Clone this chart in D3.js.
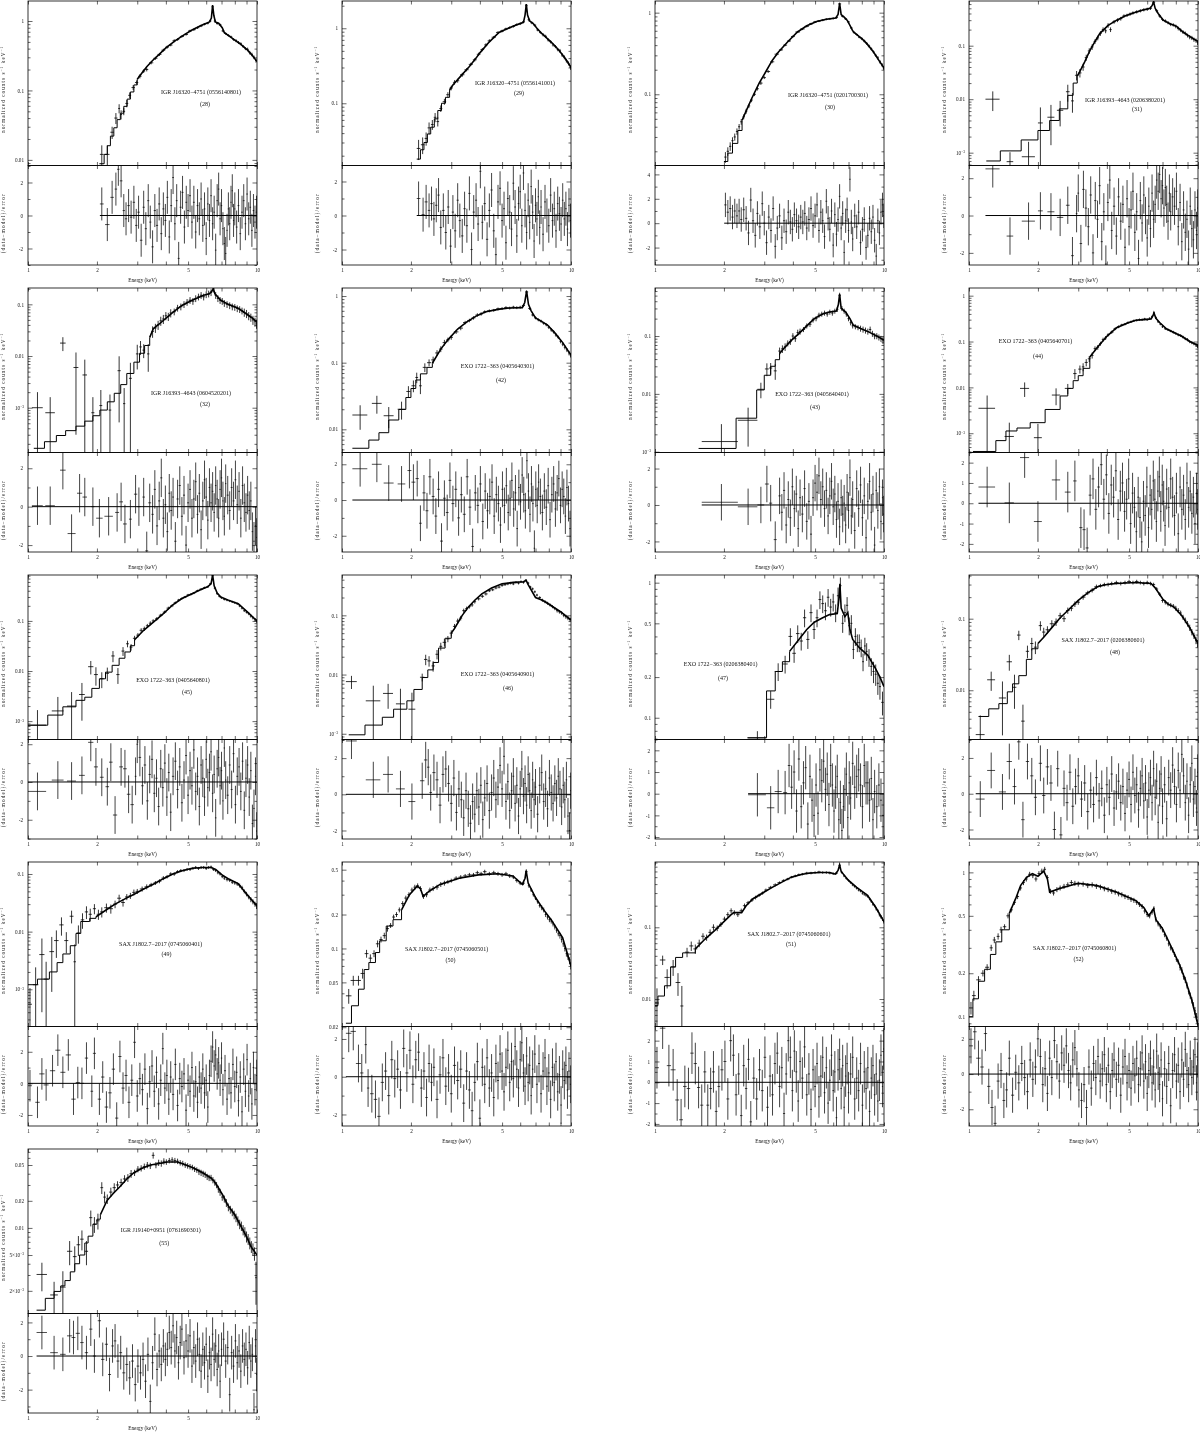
<!DOCTYPE html>
<html><head><meta charset="utf-8">
<script src="https://cdn.jsdelivr.net/npm/d3@7"></script>
<style>html,body{margin:0;padding:0;background:#fff;}svg{display:block;will-change:transform;}text{-webkit-font-smoothing:antialiased;}</style>
</head><body>
<svg id="c" width="1200" height="1433"></svg>
<script>
// ---------------- DATA ----------------
const panelIds = ["28","29","30","31","32","42","43","44","45","46","47","48","49","50","51","52","55"];
const sourceNames = ["IGR J16320−4751 (0556140801)","IGR J16320−4751 (0556141001)","IGR J16320−4751 (0201700301)",
 "IGR J16393−4643 (0206380201)","IGR J16393−4643 (0604520201)","EXO 1722−363 (0405640301)","EXO 1722−363 (0405640401)",
 "EXO 1722−363 (0405640701)","EXO 1722−363 (0405640801)","EXO 1722−363 (0405640901)","EXO 1722−363 (0206380401)",
 "SAX J1802.7−2017 (0206380601)","SAX J1802.7−2017 (0745060401)","SAX J1802.7−2017 (0745060501)",
 "SAX J1802.7−2017 (0745060601)","SAX J1802.7−2017 (0745060801)","IGR J19140+0951 (0761690301)"];
const energyTicks = [1,2,3,4,5,6,7,8,9,10];
const energyLabelTicks = [1,2,5,10];
const resTicksA = [-2,0,2];
const resTicksB = [-2,0,2,4];
const resTicksC = [-2,-1,0,1,2];
const yt28=[0.01,0.1,1], yt29=[0.1,1], yt30=[0.1,1], yt31=[0.001,0.01,0.1], yt32=[0.001,0.01,0.1],
 yt42=[0.01,0.1,1], yt43=[0.001,0.01,0.1], yt44=[0.001,0.01,0.1,1], yt45=[0.001,0.01,0.1], yt46=[0.001,0.01,0.1],
 yt47=[0.1,0.2,0.5,1], yt48=[0.01,0.1], yt49=[0.001,0.01,0.1], yt50=[0.02,0.05,0.1,0.2,0.5], yt51=[0.01,0.1],
 yt52=[0.1,0.2,0.5,1], yt55=[0.002,0.005,0.01,0.02,0.05];

// model: [energy keV, counts/s/keV]
const model28=[[2.05,0.0088],[2.15,0.012],[2.22,0.016],[2.29,0.022],[2.37,0.029],[2.45,0.038],[2.53,0.047],[2.62,0.059],[2.71,0.075],[2.8,0.095],[2.9,0.12],[3.0,0.145],[3.15,0.18],[3.3,0.22],[3.5,0.27],[3.7,0.32],[4.0,0.41],[4.4,0.52],[4.8,0.63],[5.2,0.74],[5.7,0.86],[6.2,0.97],[6.32,1.1],[6.4,1.7],[6.48,1.2],[6.58,0.97],[6.8,0.93],[7.05,0.8],[7.2,0.68],[7.6,0.6],[8.0,0.53],[8.5,0.46],[9.1,0.38],[9.6,0.31],[10,0.26]];
const model29=[[2.12,0.018],[2.2,0.024],[2.28,0.03],[2.36,0.039],[2.44,0.048],[2.53,0.062],[2.62,0.08],[2.72,0.1],[2.83,0.12],[2.95,0.15],[3.05,0.175],[3.3,0.23],[3.6,0.31],[3.85,0.4],[4.0,0.47],[4.4,0.66],[4.85,0.88],[5.2,0.97],[5.65,1.08],[6.2,1.2],[6.3,1.5],[6.38,2.1],[6.46,1.5],[6.6,1.25],[6.85,1.15],[7.1,1.0],[7.4,0.87],[7.8,0.75],[8.3,0.63],[8.8,0.52],[9.3,0.42],[9.7,0.35],[10,0.3]];
const model30=[[2.0,0.015],[2.08,0.019],[2.18,0.025],[2.3,0.036],[2.4,0.048],[2.51,0.064],[2.65,0.09],[2.85,0.137],[3.05,0.19],[3.25,0.26],[3.46,0.33],[3.8,0.44],[4.19,0.58],[4.6,0.69],[5.08,0.78],[5.6,0.83],[6.16,0.86],[6.3,0.95],[6.4,1.3],[6.5,0.95],[6.7,0.88],[6.9,0.81],[7.1,0.7],[7.3,0.6],[7.47,0.56],[8.0,0.48],[8.4,0.42],[9.0,0.33],[9.5,0.26],[10,0.21]];
const model31=[[1.19,0.0007],[1.37,0.00108],[1.69,0.00173],[2.0,0.0026],[2.25,0.004],[2.48,0.0066],[2.7,0.0118],[2.85,0.02],[2.97,0.027],[3.05,0.033],[3.2,0.05],[3.38,0.083],[3.55,0.12],[3.73,0.17],[4.05,0.24],[4.42,0.3],[4.8,0.36],[5.22,0.41],[5.7,0.46],[6.17,0.5],[6.3,0.56],[6.4,0.66],[6.5,0.5],[6.7,0.4],[7.05,0.3],[7.5,0.26],[8.07,0.23],[8.6,0.18],[9.3,0.145],[10,0.12]];
const model32=[[1.06,0.000164],[1.18,0.00022],[1.33,0.00029],[1.46,0.00036],[1.62,0.00044],[1.77,0.00055],[1.92,0.0007],[2.06,0.0009],[2.22,0.0013],[2.38,0.0019],[2.54,0.0028],[2.7,0.0046],[2.9,0.0076],[3.07,0.0113],[3.23,0.016],[3.4,0.023],[3.53,0.034],[3.82,0.045],[4.29,0.07],[4.7,0.095],[5.21,0.12],[5.85,0.15],[6.2,0.16],[6.35,0.18],[6.45,0.2],[6.55,0.16],[6.95,0.12],[7.5,0.1],[8.28,0.084],[9.0,0.065],[9.5,0.055],[10,0.045]];
const model42=[[1.11,0.0052],[1.31,0.0069],[1.45,0.0089],[1.6,0.0138],[1.77,0.0199],[1.9,0.03],[2.0,0.041],[2.1,0.055],[2.2,0.068],[2.35,0.085],[2.48,0.098],[2.7,0.16],[2.9,0.22],[3.2,0.32],[3.51,0.41],[3.85,0.5],[4.25,0.58],[4.8,0.63],[5.36,0.66],[6.13,0.67],[6.28,0.8],[6.4,1.19],[6.52,0.75],[6.7,0.6],[7.0,0.47],[7.4,0.42],[7.88,0.37],[8.5,0.28],[9.2,0.2],[10,0.13]];
const model43=[[1.55,0.00114],[2.26,0.0038],[2.78,0.0117],[3.0,0.021],[3.2,0.03],[3.35,0.039],[3.5,0.05],[3.65,0.061],[3.95,0.085],[4.25,0.11],[4.6,0.15],[4.96,0.2],[5.4,0.24],[5.78,0.26],[6.2,0.27],[6.32,0.35],[6.4,0.53],[6.5,0.3],[6.8,0.26],[7.1,0.2],[7.34,0.155],[7.9,0.135],[8.56,0.118],[9.3,0.1],[10,0.085]];
const model44=[[1.04,0.0004],[1.31,0.00069],[1.45,0.00112],[1.62,0.0013],[1.85,0.0017],[2.15,0.0033],[2.5,0.0065],[2.7,0.0095],[2.85,0.014],[3.0,0.018],[3.15,0.026],[3.37,0.046],[3.64,0.075],[4.0,0.13],[4.41,0.2],[4.9,0.25],[5.35,0.29],[5.8,0.3],[6.24,0.31],[6.35,0.36],[6.42,0.42],[6.55,0.32],[6.8,0.26],[7.28,0.19],[7.8,0.16],[8.5,0.13],[9.2,0.1],[10,0.082]];
const model45=[[1.0,0.00083],[1.22,0.00132],[1.42,0.00193],[1.62,0.0026],[1.77,0.003],[1.9,0.0045],[2.05,0.007],[2.18,0.0095],[2.33,0.013],[2.5,0.018],[2.65,0.024],[2.8,0.032],[2.92,0.042],[3.2,0.065],[3.54,0.096],[3.9,0.14],[4.29,0.21],[4.7,0.28],[5.21,0.35],[5.6,0.41],[6.08,0.48],[6.3,0.55],[6.4,0.83],[6.5,0.5],[6.7,0.36],[6.95,0.3],[7.5,0.26],[8.28,0.22],[9.1,0.15],[10,0.1]];
const model46=[[1.07,0.00096],[1.26,0.0014],[1.5,0.0019],[1.68,0.0026],[1.92,0.0036],[2.06,0.0056],[2.24,0.0089],[2.37,0.012],[2.5,0.016],[2.64,0.028],[2.82,0.041],[3.0,0.05],[3.1,0.06],[3.35,0.1],[3.55,0.136],[3.8,0.18],[4.08,0.23],[4.5,0.29],[5.0,0.34],[5.6,0.36],[6.2,0.37],[6.37,0.39],[6.5,0.33],[7.0,0.2],[7.5,0.18],[7.9,0.16],[9.0,0.115],[10,0.083]];
const model47=[[2.53,0.071],[3.07,0.158],[3.35,0.22],[3.6,0.26],[3.87,0.31],[4.25,0.38],[4.6,0.45],[4.96,0.51],[5.4,0.55],[5.78,0.58],[6.25,0.59],[6.35,0.75],[6.42,0.98],[6.5,0.65],[6.75,0.56],[6.95,0.6],[7.1,0.45],[7.3,0.38],[7.8,0.33],[8.5,0.29],[9.2,0.23],[9.6,0.2],[10,0.17]];
const model48=[[1.1,0.0043],[1.22,0.0055],[1.35,0.0065],[1.47,0.0095],[1.55,0.0123],[1.65,0.016],[1.78,0.027],[1.88,0.038],[2.0,0.045],[2.12,0.055],[2.3,0.075],[2.48,0.1],[2.7,0.13],[3.0,0.18],[3.3,0.23],[3.64,0.28],[4.0,0.3],[4.41,0.31],[5.35,0.32],[6.24,0.31],[6.5,0.27],[7.0,0.19],[7.4,0.16],[7.86,0.145],[8.5,0.11],[9.2,0.075],[10,0.045]];
const model49=[[1.0,0.0012],[1.1,0.0015],[1.24,0.002],[1.34,0.0029],[1.42,0.0041],[1.53,0.0057],[1.62,0.0093],[1.7,0.015],[1.86,0.017],[1.98,0.018],[2.2,0.024],[2.4,0.03],[2.65,0.037],[2.92,0.045],[3.2,0.055],[3.54,0.067],[3.9,0.083],[4.29,0.1],[4.75,0.115],[5.21,0.126],[5.8,0.13],[6.32,0.13],[6.6,0.12],[7.1,0.094],[7.6,0.08],[8.28,0.068],[9.0,0.045],[10,0.028]];
const model50=[[1.04,0.0217],[1.1,0.031],[1.18,0.0435],[1.25,0.065],[1.31,0.075],[1.4,0.092],[1.46,0.117],[1.56,0.158],[1.67,0.18],[1.82,0.22],[1.97,0.3],[2.13,0.357],[2.2,0.34],[2.26,0.29],[2.39,0.32],[2.68,0.37],[3.25,0.42],[3.94,0.45],[4.78,0.46],[5.57,0.44],[6.13,0.37],[6.3,0.42],[6.37,0.49],[6.5,0.38],[7.02,0.28],[7.6,0.22],[8.19,0.18],[9.19,0.125],[10,0.07]];
const model51=[[1.0,0.0081],[1.03,0.011],[1.1,0.0153],[1.17,0.028],[1.23,0.038],[1.32,0.044],[1.5,0.05],[1.65,0.068],[1.82,0.09],[2.0,0.12],[2.15,0.15],[2.21,0.16],[2.39,0.16],[2.5,0.2],[2.68,0.25],[3.0,0.31],[3.25,0.36],[3.6,0.43],[3.94,0.5],[4.4,0.55],[4.78,0.57],[5.3,0.58],[5.79,0.58],[6.13,0.55],[6.3,0.62],[6.4,0.74],[6.5,0.6],[7.0,0.45],[7.6,0.36],[8.47,0.28],[9.2,0.19],[10,0.12]];
const model52=[[1.0,0.1],[1.04,0.133],[1.1,0.176],[1.17,0.213],[1.24,0.27],[1.31,0.33],[1.39,0.4],[1.5,0.52],[1.6,0.66],[1.68,0.81],[1.78,0.92],[1.89,0.98],[2.0,0.94],[2.12,1.02],[2.2,0.9],[2.25,0.73],[2.47,0.77],[3.0,0.84],[3.63,0.81],[4.4,0.73],[5.33,0.64],[5.8,0.57],[6.1,0.5],[6.3,0.54],[6.4,0.56],[6.55,0.47],[6.98,0.41],[7.4,0.34],[7.83,0.28],[8.3,0.23],[8.8,0.18],[9.4,0.13],[10,0.087]];
const model55=[[1.09,0.00122],[1.19,0.00165],[1.3,0.00197],[1.39,0.00227],[1.45,0.0026],[1.53,0.00325],[1.6,0.004],[1.68,0.005],[1.77,0.0068],[1.83,0.0081],[1.92,0.011],[2.0,0.0125],[2.07,0.014],[2.21,0.02],[2.35,0.024],[2.53,0.029],[2.7,0.035],[2.9,0.041],[3.15,0.046],[3.43,0.05],[4.06,0.054],[4.49,0.054],[4.9,0.05],[5.31,0.046],[5.8,0.041],[6.29,0.036],[6.5,0.033],[6.72,0.029],[7.1,0.023],[7.44,0.018],[8.0,0.014],[8.51,0.0104],[9.0,0.008],[9.41,0.0062],[10,0.005]];

// spectra: [energy keV, counts/s/keV, relative 1-sigma error, optional bin half-width keV]
const spec28=[[2.1,0.012,0.35,0.04],[2.22,0.012,0.35,0.05],[2.33,0.025,0.2,0.04],[2.42,0.04,0.18],[2.5,0.055,0.15],[2.55,0.045,0.15],[2.62,0.05,0.12],[2.7,0.065,0.12],[2.78,0.085,0.1],[2.88,0.11,0.08],[2.98,0.13,0.07],[3.08,0.16,0.07],[3.2,0.19,0.06],[3.3,0.2,0.06],[3.45,0.25,0.05],[3.6,0.29,0.05],[3.75,0.33,0.05],[3.9,0.38,0.05],[4.05,0.42,0.05],[4.2,0.45,0.04],[4.35,0.52,0.05],[4.5,0.54,0.04],[4.7,0.6,0.04],[4.9,0.64,0.04],[5.1,0.72,0.04],[5.3,0.75,0.04],[5.5,0.8,0.04],[5.7,0.85,0.04],[5.9,0.9,0.04],[6.1,0.93,0.04],[6.25,1.0,0.04],[6.4,1.6,0.05],[6.55,1.0,0.05],[6.7,0.92,0.04],[6.9,0.88,0.04],[7.1,0.72,0.04],[7.3,0.66,0.04],[7.5,0.62,0.04],[7.7,0.59,0.04],[7.9,0.54,0.04],[8.1,0.52,0.05],[8.3,0.49,0.05],[8.5,0.47,0.05],[8.7,0.43,0.05],[8.9,0.4,0.05],[9.1,0.39,0.06],[9.3,0.35,0.06],[9.5,0.33,0.06],[9.7,0.3,0.06],[9.9,0.27,0.07]];
const spec29=[[2.16,0.025,0.3,0.04],[2.25,0.028,0.25,0.04],[2.33,0.034,0.2],[2.4,0.047,0.18],[2.48,0.052,0.15],[2.55,0.065,0.14],[2.62,0.057,0.14],[2.7,0.085,0.1],[2.8,0.105,0.09],[2.9,0.13,0.08],[3.0,0.16,0.07],[3.1,0.19,0.07],[3.2,0.2,0.06],[3.35,0.24,0.06],[3.5,0.28,0.05],[3.65,0.33,0.05],[3.8,0.38,0.05],[3.95,0.45,0.05],[4.1,0.52,0.05],[4.25,0.6,0.05],[4.4,0.68,0.05],[4.6,0.76,0.04],[4.8,0.88,0.04],[5.0,0.92,0.04],[5.2,0.98,0.04],[5.4,1.02,0.04],[5.6,1.06,0.04],[5.8,1.12,0.04],[6.0,1.15,0.04],[6.2,1.22,0.04],[6.38,2.0,0.05],[6.55,1.3,0.05],[6.75,1.18,0.04],[6.95,1.1,0.04],[7.15,0.95,0.04],[7.35,0.88,0.04],[7.55,0.82,0.05],[7.75,0.78,0.05],[7.95,0.7,0.05],[8.15,0.66,0.05],[8.35,0.6,0.05],[8.55,0.57,0.05],[8.75,0.52,0.05],[8.95,0.5,0.06],[9.15,0.44,0.06],[9.35,0.41,0.06],[9.55,0.37,0.06],[9.75,0.34,0.06],[9.95,0.3,0.07]];
const spec30=[[2.03,0.017,0.15,0.025],[2.08,0.02,0.12],[2.13,0.023,0.12],[2.18,0.027,0.1],[2.23,0.03,0.1],[2.28,0.035,0.09],[2.33,0.04,0.08],[2.38,0.046,0.08],[2.44,0.053,0.07],[2.5,0.062,0.07],[2.57,0.072,0.06],[2.64,0.085,0.06],[2.72,0.1,0.05],[2.8,0.117,0.05],[2.9,0.137,0.05],[3.0,0.16,0.04],[3.12,0.19,0.04],[3.25,0.25,0.04],[3.4,0.31,0.04],[3.55,0.35,0.03],[3.7,0.4,0.03],[3.85,0.45,0.03],[4.0,0.51,0.03],[4.2,0.58,0.03],[4.4,0.63,0.03],[4.6,0.68,0.03],[4.8,0.73,0.03],[5.0,0.77,0.03],[5.2,0.79,0.03],[5.4,0.81,0.03],[5.6,0.83,0.03],[5.8,0.84,0.03],[6.0,0.85,0.03],[6.2,0.87,0.03],[6.4,1.28,0.04],[6.6,0.9,0.03],[6.8,0.84,0.03],[7.0,0.77,0.03],[7.2,0.65,0.03],[7.4,0.57,0.03],[7.6,0.54,0.03],[7.8,0.5,0.03],[8.0,0.48,0.04],[8.2,0.45,0.04],[8.4,0.42,0.04],[8.6,0.39,0.04],[8.8,0.36,0.04],[9.0,0.33,0.04],[9.2,0.3,0.04],[9.4,0.28,0.05],[9.6,0.25,0.05],[9.8,0.23,0.05],[9.95,0.21,0.05]];
const spec31=[[1.27,0.01,0.4,0.09],[1.51,0.00068,0.5,0.05],[1.82,0.00084,0.9,0.12],[2.05,0.0036,0.95,0.05],[2.28,0.0046,0.7,0.08],[2.5,0.0062,0.5,0.08],[2.7,0.0138,0.35,0.05],[2.83,0.0093,0.4,0.04],[2.95,0.028,0.2],[3.05,0.031,0.18],[3.15,0.04,0.15],[3.25,0.06,0.13],[3.35,0.08,0.12],[3.45,0.095,0.12],[3.55,0.12,0.1],[3.65,0.14,0.1],[3.75,0.17,0.1],[3.85,0.2,0.1],[3.95,0.19,0.1],[4.05,0.24,0.1],[4.15,0.2,0.1],[4.3,0.28,0.08],[4.45,0.3,0.08],[4.6,0.32,0.08],[4.75,0.36,0.07],[4.9,0.37,0.07],[5.05,0.39,0.07],[5.2,0.41,0.07],[5.4,0.43,0.07],[5.6,0.45,0.07],[5.8,0.47,0.07],[6.0,0.48,0.07],[6.2,0.5,0.07],[6.4,0.65,0.08],[6.6,0.45,0.07],[6.8,0.36,0.07],[7.0,0.31,0.07],[7.2,0.29,0.07],[7.4,0.27,0.07],[7.6,0.25,0.07],[7.8,0.245,0.07],[8.0,0.23,0.08],[8.2,0.21,0.08],[8.4,0.195,0.08],[8.6,0.18,0.08],[8.8,0.17,0.08],[9.0,0.155,0.08],[9.2,0.145,0.09],[9.4,0.14,0.09],[9.6,0.13,0.09],[9.8,0.125,0.09],[9.95,0.115,0.1]];
const spec32=[[1.1,0.001,1.0,0.06],[1.25,0.0008,1.0,0.06],[1.42,0.0178,0.3,0.04],[1.62,0.006,0.95,0.04],[1.77,0.0043,0.98,0.04],[1.92,0.0008,1.0,0.03],[2.08,0.0011,1.0,0.03],[2.28,0.0009,1.0,0.03],[2.5,0.0052,0.9,0.04],[2.63,0.0012,1.0,0.03],[2.8,0.0037,1.0,0.04],[3.0,0.011,0.5,0.04],[3.1,0.015,0.3,0.04],[3.2,0.013,0.3,0.04],[3.35,0.011,0.55,0.04],[3.5,0.03,0.25],[3.6,0.035,0.2],[3.7,0.04,0.2],[3.8,0.048,0.2],[3.9,0.052,0.2],[4.0,0.06,0.18],[4.1,0.058,0.18],[4.2,0.068,0.18],[4.35,0.072,0.15],[4.5,0.085,0.15],[4.65,0.09,0.15],[4.8,0.1,0.15],[4.95,0.11,0.15],[5.1,0.12,0.15],[5.25,0.115,0.15],[5.4,0.13,0.15],[5.55,0.14,0.15],[5.7,0.15,0.15],[5.85,0.14,0.15],[6.0,0.155,0.15],[6.15,0.16,0.15],[6.3,0.17,0.15],[6.45,0.2,0.15],[6.6,0.15,0.15],[6.75,0.13,0.15],[6.9,0.12,0.15],[7.05,0.115,0.15],[7.2,0.105,0.15],[7.4,0.1,0.15],[7.6,0.095,0.15],[7.8,0.09,0.15],[8.0,0.088,0.15],[8.2,0.083,0.15],[8.4,0.08,0.15],[8.6,0.075,0.15],[8.8,0.07,0.18],[9.0,0.066,0.18],[9.2,0.06,0.18],[9.4,0.056,0.18],[9.6,0.05,0.2],[9.8,0.046,0.2],[9.95,0.042,0.2]];
const spec42=[[1.2,0.0164,0.4,0.09],[1.42,0.0245,0.3,0.07],[1.6,0.016,0.35,0.08],[1.82,0.02,0.3,0.07],[1.95,0.037,0.2,0.04],[2.05,0.045,0.2,0.04],[2.12,0.06,0.18,0.03],[2.2,0.045,0.25,0.03],[2.3,0.085,0.15],[2.4,0.1,0.12],[2.5,0.11,0.12],[2.6,0.14,0.1],[2.7,0.16,0.1],[2.8,0.2,0.1],[2.9,0.22,0.08],[3.0,0.24,0.08],[3.15,0.29,0.07],[3.3,0.33,0.07],[3.45,0.4,0.06],[3.6,0.43,0.06],[3.75,0.47,0.06],[3.9,0.52,0.06],[4.05,0.54,0.06],[4.2,0.58,0.05],[4.4,0.6,0.05],[4.6,0.61,0.05],[4.8,0.64,0.05],[5.0,0.65,0.05],[5.2,0.67,0.05],[5.4,0.66,0.05],[5.6,0.68,0.05],[5.8,0.67,0.05],[6.0,0.68,0.05],[6.2,0.72,0.05],[6.4,1.15,0.06],[6.6,0.65,0.05],[6.8,0.52,0.05],[7.0,0.47,0.05],[7.2,0.44,0.05],[7.4,0.42,0.05],[7.6,0.39,0.05],[7.8,0.37,0.05],[8.0,0.34,0.06],[8.2,0.31,0.06],[8.4,0.29,0.06],[8.6,0.26,0.06],[8.8,0.24,0.06],[9.0,0.21,0.07],[9.2,0.19,0.07],[9.4,0.17,0.07],[9.6,0.155,0.07],[9.8,0.14,0.08],[9.95,0.13,0.08]];
const spec43=[[1.95,0.0015,1.0,0.35],[2.55,0.0035,0.65,0.25],[2.9,0.012,0.3,0.1],[3.08,0.027,0.25,0.06],[3.2,0.028,0.22,0.05],[3.35,0.025,0.3,0.05],[3.5,0.055,0.15],[3.6,0.06,0.15],[3.7,0.065,0.15],[3.8,0.075,0.12],[3.9,0.08,0.12],[4.0,0.1,0.12],[4.1,0.09,0.12],[4.2,0.115,0.12],[4.3,0.12,0.12],[4.45,0.13,0.1],[4.6,0.15,0.1],[4.75,0.16,0.1],[4.9,0.19,0.1],[5.05,0.2,0.1],[5.2,0.23,0.1],[5.35,0.24,0.1],[5.5,0.25,0.1],[5.65,0.24,0.1],[5.8,0.26,0.1],[5.95,0.25,0.1],[6.1,0.27,0.1],[6.25,0.29,0.1],[6.4,0.5,0.12],[6.55,0.3,0.1],[6.7,0.27,0.1],[6.85,0.24,0.1],[7.0,0.2,0.1],[7.15,0.17,0.1],[7.3,0.15,0.1],[7.5,0.145,0.1],[7.7,0.14,0.1],[7.9,0.135,0.12],[8.1,0.13,0.12],[8.3,0.125,0.12],[8.5,0.12,0.12],[8.7,0.13,0.12],[8.9,0.11,0.12],[9.1,0.1,0.12],[9.3,0.1,0.12],[9.5,0.095,0.12],[9.7,0.09,0.12],[9.9,0.085,0.15]];
const spec44=[[1.2,0.0035,0.9,0.1],[1.5,0.00085,1.0,0.07],[1.75,0.0095,0.35,0.08],[2.0,0.0008,1.0,0.08],[2.4,0.0068,0.4,0.1],[2.7,0.0095,0.25,0.08],[2.9,0.02,0.25,0.05],[3.05,0.025,0.2,0.05],[3.15,0.028,0.2,0.04],[3.25,0.035,0.18],[3.35,0.042,0.15],[3.45,0.05,0.15],[3.55,0.07,0.12],[3.65,0.075,0.12],[3.75,0.09,0.1],[3.85,0.11,0.1],[3.95,0.12,0.1],[4.05,0.14,0.08],[4.2,0.16,0.08],[4.35,0.19,0.07],[4.5,0.21,0.07],[4.65,0.23,0.06],[4.8,0.24,0.06],[4.95,0.26,0.06],[5.1,0.27,0.06],[5.25,0.285,0.06],[5.4,0.29,0.06],[5.55,0.3,0.06],[5.7,0.3,0.06],[5.85,0.31,0.06],[6.0,0.3,0.06],[6.15,0.32,0.06],[6.3,0.35,0.06],[6.42,0.42,0.06],[6.55,0.33,0.06],[6.7,0.27,0.06],[6.85,0.24,0.06],[7.0,0.21,0.06],[7.2,0.19,0.06],[7.4,0.18,0.06],[7.6,0.17,0.06],[7.8,0.16,0.07],[8.0,0.15,0.07],[8.2,0.14,0.07],[8.4,0.135,0.07],[8.6,0.125,0.07],[8.8,0.115,0.07],[9.0,0.11,0.08],[9.2,0.1,0.08],[9.4,0.095,0.08],[9.6,0.09,0.08],[9.8,0.085,0.08],[9.95,0.08,0.1]];
const spec45=[[1.1,0.00083,1.0,0.1],[1.35,0.0016,0.9,0.08],[1.55,0.002,0.9,0.07],[1.72,0.0034,0.7,0.05],[1.88,0.0122,0.3,0.05],[1.98,0.0085,0.4,0.04],[2.1,0.007,0.35,0.04],[2.22,0.009,0.3,0.04],[2.35,0.02,0.25,0.04],[2.47,0.0085,0.35,0.04],[2.6,0.025,0.2,0.04],[2.72,0.035,0.15,0.04],[2.82,0.03,0.15,0.04],[2.92,0.045,0.12],[3.02,0.052,0.1],[3.12,0.065,0.1],[3.22,0.07,0.1],[3.32,0.08,0.09],[3.42,0.09,0.09],[3.52,0.1,0.08],[3.65,0.11,0.08],[3.8,0.13,0.07],[3.95,0.15,0.07],[4.1,0.18,0.07],[4.25,0.2,0.06],[4.4,0.23,0.06],[4.55,0.26,0.06],[4.7,0.28,0.05],[4.85,0.3,0.05],[5.0,0.33,0.05],[5.15,0.34,0.05],[5.3,0.36,0.05],[5.5,0.4,0.05],[5.7,0.43,0.05],[5.9,0.46,0.05],[6.1,0.48,0.05],[6.25,0.55,0.05],[6.4,0.8,0.06],[6.55,0.45,0.05],[6.7,0.35,0.05],[6.85,0.31,0.05],[7.0,0.29,0.05],[7.2,0.27,0.05],[7.4,0.26,0.05],[7.6,0.25,0.05],[7.8,0.24,0.05],[8.0,0.23,0.05],[8.2,0.22,0.05],[8.4,0.2,0.06],[8.6,0.18,0.06],[8.8,0.16,0.06],[9.0,0.15,0.06],[9.2,0.14,0.07],[9.4,0.125,0.07],[9.6,0.115,0.07],[9.8,0.105,0.08],[9.95,0.1,0.08]];
const spec46=[[1.1,0.0076,0.25,0.06],[1.37,0.0036,0.8,0.1],[1.59,0.0048,0.45,0.08],[1.8,0.0032,0.8,0.08],[2.02,0.0026,0.9,0.07],[2.24,0.009,0.15,0.05],[2.32,0.018,0.2,0.04],[2.4,0.017,0.2,0.04],[2.5,0.014,0.2,0.04],[2.6,0.022,0.18,0.04],[2.7,0.03,0.15,0.04],[2.8,0.035,0.15],[2.9,0.04,0.12],[3.0,0.05,0.12],[3.1,0.065,0.1],[3.2,0.08,0.1],[3.3,0.09,0.09],[3.4,0.12,0.08],[3.5,0.13,0.08],[3.6,0.14,0.07],[3.7,0.15,0.07],[3.8,0.17,0.07],[3.95,0.19,0.06],[4.1,0.21,0.06],[4.25,0.23,0.06],[4.4,0.26,0.05],[4.55,0.27,0.05],[4.7,0.29,0.05],[4.85,0.3,0.05],[5.0,0.32,0.05],[5.15,0.33,0.05],[5.3,0.34,0.05],[5.45,0.35,0.05],[5.6,0.34,0.05],[5.75,0.36,0.05],[5.9,0.35,0.05],[6.05,0.37,0.05],[6.2,0.36,0.05],[6.35,0.39,0.05],[6.5,0.35,0.05],[6.65,0.3,0.05],[6.8,0.28,0.05],[6.95,0.25,0.05],[7.1,0.22,0.05],[7.3,0.2,0.05],[7.5,0.18,0.06],[7.7,0.17,0.06],[7.9,0.16,0.06],[8.1,0.15,0.06],[8.3,0.14,0.06],[8.5,0.13,0.06],[8.7,0.12,0.07],[8.9,0.115,0.07],[9.1,0.11,0.07],[9.3,0.1,0.07],[9.5,0.095,0.08],[9.7,0.09,0.08],[9.9,0.085,0.08]];
const spec47=[[2.8,0.071,0.12,0.25],[3.2,0.137,0.15,0.12],[3.45,0.22,0.15],[3.7,0.25,0.15],[3.9,0.4,0.15],[4.05,0.3,0.15],[4.2,0.42,0.15],[4.35,0.37,0.15],[4.5,0.55,0.15],[4.65,0.38,0.15],[4.8,0.6,0.15],[4.95,0.45,0.15],[5.1,0.55,0.15],[5.25,0.75,0.15],[5.4,0.7,0.15],[5.55,0.62,0.15],[5.7,0.78,0.15],[5.85,0.66,0.15],[6.0,0.72,0.15],[6.15,0.6,0.15],[6.3,0.8,0.15],[6.45,0.95,0.15],[6.6,0.5,0.15],[6.75,0.6,0.15],[6.9,0.68,0.15],[7.05,0.48,0.15],[7.2,0.5,0.15],[7.35,0.32,0.15],[7.5,0.4,0.15],[7.65,0.36,0.15],[7.8,0.36,0.15],[7.95,0.33,0.15],[8.1,0.26,0.15],[8.25,0.34,0.15],[8.4,0.31,0.15],[8.6,0.28,0.15],[8.8,0.24,0.15],[9.0,0.22,0.18],[9.2,0.21,0.18],[9.4,0.18,0.18],[9.6,0.17,0.2],[9.85,0.13,0.2]];
const spec48=[[1.12,0.0024,0.85,0.05],[1.25,0.014,0.3,0.05],[1.4,0.0078,0.7,0.05],[1.5,0.025,0.25,0.04],[1.58,0.011,0.5,0.03],[1.65,0.059,0.15,0.03],[1.72,0.0037,0.7,0.03],[1.8,0.035,0.2,0.03],[1.88,0.045,0.2,0.03],[1.95,0.04,0.2,0.03],[2.05,0.08,0.15],[2.12,0.065,0.15],[2.2,0.07,0.12],[2.3,0.085,0.12],[2.4,0.09,0.12],[2.5,0.11,0.1],[2.6,0.1,0.1],[2.7,0.13,0.1],[2.8,0.14,0.09],[2.9,0.16,0.09],[3.0,0.17,0.08],[3.15,0.2,0.08],[3.3,0.23,0.07],[3.45,0.25,0.07],[3.6,0.28,0.07],[3.75,0.29,0.06],[3.9,0.3,0.06],[4.05,0.3,0.06],[4.2,0.31,0.06],[4.4,0.32,0.06],[4.6,0.31,0.06],[4.8,0.32,0.06],[5.0,0.33,0.06],[5.2,0.32,0.06],[5.4,0.33,0.06],[5.6,0.32,0.06],[5.8,0.31,0.06],[6.0,0.32,0.06],[6.2,0.31,0.06],[6.4,0.3,0.06],[6.6,0.26,0.06],[6.8,0.22,0.06],[7.0,0.18,0.07],[7.2,0.17,0.07],[7.4,0.16,0.07],[7.6,0.155,0.07],[7.8,0.15,0.07],[8.0,0.14,0.08],[8.2,0.13,0.08],[8.4,0.12,0.08],[8.6,0.105,0.08],[8.8,0.095,0.09],[9.0,0.085,0.09],[9.2,0.075,0.1],[9.4,0.065,0.1],[9.6,0.058,0.1],[9.8,0.05,0.12],[9.95,0.045,0.12]];
const spec49=[[1.02,0.00055,0.9,0.02],[1.08,0.0012,1.0,0.03],[1.15,0.004,0.9,0.03],[1.2,0.0015,1.0,0.03],[1.27,0.0045,0.8,0.03],[1.33,0.007,0.5,0.03],[1.4,0.0131,0.35,0.03],[1.47,0.007,0.4,0.03],[1.55,0.0185,0.25,0.03],[1.6,0.003,1.0,0.02],[1.66,0.0095,0.35,0.03],[1.73,0.016,0.3,0.03],[1.8,0.022,0.25,0.03],[1.87,0.02,0.25,0.03],[1.95,0.025,0.2,0.03],[2.03,0.02,0.2],[2.1,0.022,0.2],[2.2,0.026,0.18],[2.3,0.025,0.18],[2.4,0.03,0.15],[2.5,0.038,0.15],[2.6,0.032,0.15],[2.7,0.04,0.12],[2.8,0.042,0.12],[2.9,0.048,0.12],[3.0,0.05,0.1],[3.15,0.055,0.1],[3.3,0.06,0.1],[3.45,0.065,0.08],[3.6,0.07,0.08],[3.75,0.075,0.08],[3.9,0.085,0.08],[4.05,0.09,0.07],[4.2,0.1,0.07],[4.35,0.1,0.07],[4.5,0.11,0.06],[4.65,0.115,0.06],[4.8,0.115,0.06],[4.95,0.12,0.06],[5.1,0.12,0.06],[5.25,0.125,0.06],[5.4,0.13,0.06],[5.55,0.125,0.06],[5.7,0.13,0.06],[5.85,0.13,0.06],[6.0,0.125,0.06],[6.15,0.13,0.06],[6.3,0.132,0.06],[6.45,0.12,0.06],[6.6,0.115,0.06],[6.75,0.105,0.06],[6.9,0.1,0.06],[7.05,0.09,0.06],[7.2,0.085,0.07],[7.4,0.08,0.07],[7.6,0.078,0.07],[7.8,0.072,0.07],[8.0,0.07,0.07],[8.2,0.067,0.07],[8.4,0.063,0.08],[8.6,0.058,0.08],[8.8,0.05,0.08],[9.0,0.045,0.09],[9.2,0.04,0.09],[9.4,0.036,0.1],[9.6,0.033,0.1],[9.8,0.03,0.1],[9.95,0.028,0.12]];
const spec50=[[1.07,0.038,0.15,0.03],[1.12,0.052,0.1,0.03],[1.18,0.052,0.1,0.03],[1.23,0.06,0.1,0.025],[1.28,0.09,0.08],[1.33,0.082,0.08],[1.38,0.09,0.07],[1.43,0.11,0.07],[1.48,0.12,0.06],[1.53,0.13,0.06],[1.58,0.15,0.06],[1.63,0.16,0.05],[1.68,0.19,0.05],[1.73,0.2,0.05],[1.78,0.22,0.05],[1.84,0.25,0.05],[1.9,0.28,0.05],[1.96,0.3,0.05],[2.02,0.33,0.05],[2.08,0.35,0.05],[2.14,0.36,0.05],[2.2,0.34,0.05],[2.27,0.29,0.05],[2.34,0.3,0.05],[2.42,0.33,0.05],[2.5,0.34,0.05],[2.6,0.35,0.05],[2.7,0.37,0.05],[2.8,0.38,0.05],[2.9,0.39,0.04],[3.0,0.4,0.04],[3.15,0.42,0.04],[3.3,0.43,0.04],[3.45,0.44,0.04],[3.6,0.45,0.04],[3.75,0.45,0.04],[3.9,0.47,0.04],[4.05,0.46,0.04],[4.2,0.48,0.04],[4.4,0.46,0.04],[4.6,0.47,0.04],[4.8,0.46,0.04],[5.0,0.45,0.04],[5.2,0.46,0.04],[5.4,0.44,0.04],[5.6,0.43,0.04],[5.8,0.4,0.04],[6.0,0.38,0.04],[6.2,0.38,0.04],[6.38,0.48,0.05],[6.55,0.36,0.04],[6.7,0.33,0.04],[6.85,0.3,0.04],[7.0,0.28,0.04],[7.15,0.26,0.04],[7.3,0.24,0.04],[7.45,0.23,0.05],[7.6,0.22,0.05],[7.75,0.2,0.05],[7.9,0.19,0.05],[8.05,0.18,0.05],[8.2,0.175,0.05],[8.35,0.165,0.05],[8.5,0.155,0.05],[8.65,0.145,0.05],[8.8,0.135,0.05],[8.95,0.13,0.06],[9.1,0.12,0.06],[9.25,0.11,0.06],[9.4,0.1,0.06],[9.55,0.09,0.06],[9.7,0.085,0.07],[9.85,0.078,0.07],[9.97,0.07,0.07]];
const spec51=[[1.02,0.0088,0.6,0.02],[1.08,0.035,0.15,0.03],[1.13,0.02,0.3,0.03],[1.2,0.028,0.25,0.03],[1.26,0.017,0.35,0.03],[1.31,0.008,0.9,0.02],[1.38,0.045,0.15],[1.44,0.055,0.15],[1.5,0.05,0.15],[1.56,0.06,0.12],[1.62,0.075,0.1],[1.68,0.072,0.1],[1.74,0.085,0.1],[1.8,0.1,0.1],[1.87,0.097,0.09],[1.94,0.11,0.08],[2.01,0.13,0.08],[2.08,0.15,0.08],[2.15,0.17,0.08],[2.22,0.16,0.08],[2.3,0.15,0.07],[2.38,0.17,0.07],[2.46,0.2,0.07],[2.55,0.22,0.06],[2.65,0.24,0.06],[2.75,0.26,0.06],[2.85,0.28,0.05],[2.95,0.3,0.05],[3.05,0.33,0.05],[3.2,0.36,0.05],[3.35,0.39,0.05],[3.5,0.42,0.04],[3.65,0.45,0.04],[3.8,0.47,0.04],[3.95,0.5,0.04],[4.1,0.52,0.04],[4.25,0.54,0.04],[4.4,0.55,0.04],[4.6,0.57,0.04],[4.8,0.57,0.04],[5.0,0.58,0.04],[5.2,0.59,0.04],[5.4,0.58,0.04],[5.6,0.58,0.04],[5.8,0.57,0.04],[6.0,0.56,0.04],[6.2,0.57,0.04],[6.4,0.73,0.05],[6.55,0.58,0.04],[6.7,0.52,0.04],[6.85,0.48,0.04],[7.0,0.45,0.04],[7.15,0.42,0.04],[7.3,0.39,0.04],[7.45,0.37,0.04],[7.6,0.35,0.04],[7.75,0.33,0.04],[7.9,0.32,0.04],[8.05,0.3,0.05],[8.2,0.29,0.05],[8.35,0.28,0.05],[8.5,0.27,0.05],[8.65,0.25,0.05],[8.8,0.23,0.05],[8.95,0.21,0.05],[9.1,0.2,0.05],[9.25,0.18,0.05],[9.4,0.17,0.05],[9.55,0.15,0.06],[9.7,0.14,0.06],[9.85,0.13,0.06],[9.97,0.12,0.06]];
const spec52=[[1.02,0.115,0.1,0.02],[1.05,0.14,0.08,0.02],[1.1,0.18,0.06,0.025],[1.15,0.2,0.05],[1.2,0.22,0.05],[1.25,0.3,0.05],[1.29,0.34,0.05],[1.34,0.36,0.05],[1.38,0.4,0.05],[1.43,0.42,0.04],[1.48,0.5,0.04],[1.53,0.55,0.04],[1.58,0.62,0.04],[1.63,0.68,0.04],[1.68,0.78,0.04],[1.73,0.85,0.04],[1.78,0.9,0.04],[1.84,0.97,0.04],[1.9,0.95,0.04],[1.96,0.9,0.04],[2.02,0.98,0.04],[2.08,1.02,0.04],[2.14,1.05,0.04],[2.2,0.92,0.04],[2.27,0.74,0.04],[2.34,0.72,0.04],[2.42,0.76,0.04],[2.5,0.78,0.04],[2.6,0.8,0.04],[2.7,0.82,0.04],[2.8,0.85,0.04],[2.9,0.84,0.04],[3.0,0.83,0.04],[3.15,0.83,0.04],[3.3,0.81,0.04],[3.45,0.82,0.04],[3.6,0.8,0.04],[3.75,0.79,0.04],[3.9,0.77,0.04],[4.05,0.76,0.04],[4.2,0.74,0.04],[4.35,0.73,0.04],[4.5,0.71,0.04],[4.65,0.7,0.04],[4.8,0.68,0.04],[4.95,0.67,0.04],[5.1,0.65,0.04],[5.25,0.64,0.04],[5.4,0.62,0.04],[5.55,0.6,0.04],[5.7,0.58,0.04],[5.85,0.54,0.04],[6.0,0.51,0.04],[6.15,0.5,0.04],[6.3,0.53,0.04],[6.42,0.56,0.04],[6.55,0.47,0.04],[6.7,0.44,0.04],[6.85,0.42,0.04],[7.0,0.4,0.04],[7.15,0.37,0.04],[7.3,0.35,0.04],[7.45,0.32,0.04],[7.6,0.3,0.04],[7.75,0.29,0.04],[7.9,0.27,0.04],[8.05,0.25,0.04],[8.2,0.24,0.04],[8.35,0.22,0.05],[8.5,0.21,0.05],[8.65,0.19,0.05],[8.8,0.18,0.05],[8.95,0.165,0.05],[9.1,0.15,0.05],[9.25,0.14,0.05],[9.4,0.13,0.05],[9.55,0.12,0.05],[9.7,0.11,0.06],[9.85,0.1,0.06],[9.97,0.09,0.06]];
const spec55=[[1.15,0.00304,0.35,0.06],[1.3,0.0018,0.4,0.05],[1.42,0.0022,0.5,0.04],[1.52,0.0055,0.3,0.04],[1.6,0.0048,0.3,0.03],[1.66,0.0065,0.25,0.03],[1.72,0.0075,0.25,0.03],[1.8,0.0055,0.3,0.03],[1.88,0.013,0.2,0.03],[1.95,0.011,0.2,0.03],[2.02,0.012,0.2],[2.1,0.028,0.15],[2.16,0.022,0.15],[2.22,0.021,0.12],[2.3,0.025,0.12],[2.38,0.028,0.12],[2.46,0.03,0.1],[2.55,0.032,0.1],[2.64,0.035,0.1],[2.73,0.036,0.1],[2.82,0.04,0.1],[2.92,0.041,0.08],[3.02,0.045,0.08],[3.12,0.046,0.08],[3.22,0.048,0.08],[3.32,0.05,0.08],[3.42,0.049,0.08],[3.52,0.064,0.08],[3.62,0.05,0.08],[3.72,0.053,0.08],[3.82,0.052,0.08],[3.92,0.055,0.08],[4.02,0.054,0.07],[4.14,0.056,0.07],[4.26,0.057,0.07],[4.38,0.056,0.07],[4.5,0.055,0.07],[4.62,0.053,0.07],[4.74,0.052,0.07],[4.86,0.05,0.07],[4.98,0.049,0.07],[5.1,0.048,0.07],[5.22,0.047,0.07],[5.34,0.045,0.07],[5.46,0.044,0.07],[5.58,0.042,0.08],[5.7,0.041,0.08],[5.82,0.04,0.08],[5.94,0.039,0.08],[6.06,0.037,0.08],[6.18,0.036,0.08],[6.3,0.036,0.08],[6.42,0.034,0.08],[6.54,0.032,0.08],[6.66,0.03,0.08],[6.78,0.027,0.09],[6.9,0.025,0.09],[7.05,0.022,0.09],[7.2,0.021,0.09],[7.35,0.019,0.1],[7.5,0.017,0.1],[7.65,0.016,0.1],[7.8,0.015,0.1],[7.95,0.014,0.11],[8.1,0.013,0.11],[8.25,0.012,0.12],[8.4,0.011,0.12],[8.55,0.0105,0.12],[8.7,0.0095,0.13],[8.85,0.009,0.13],[9.0,0.008,0.14],[9.15,0.0075,0.14],[9.3,0.0068,0.15],[9.45,0.0062,0.15],[9.6,0.0058,0.16],[9.75,0.0052,0.17],[9.9,0.0028,0.5]];

// residuals: [energy keV, (data-model)/error]
const res28=[[2.1,0.7],[2.22,-0.55],[2.33,1.1],[2.42,1.6],[2.48,2.8],[2.55,2.1],[2.62,0.3],[2.68,-0.2],[2.75,0.6],[2.82,-0.1],[2.9,0.8],[2.97,-0.6],[3.04,0.2],[3.12,-1.5],[3.2,0.5],[3.27,-0.8],[3.35,0.9],[3.42,-0.4],[3.5,-1.9],[3.58,0.3],[3.66,-0.6],[3.74,0.7],[3.82,-1.1],[3.9,0.4],[3.98,-0.3],[4.06,1.1],[4.14,-1.3],[4.22,0.6],[4.3,2.3],[4.38,-0.5],[4.46,0.9],[4.55,-2.6],[4.64,0.5],[4.73,1.4],[4.82,-0.7],[4.91,0.8],[5.0,0.3],[5.1,1.2],[5.2,-0.4],[5.3,0.8],[5.4,-1.0],[5.5,0.6],[5.6,-0.2],[5.7,1.0],[5.8,-0.6],[5.9,0.4],[6.0,-1.4],[6.1,0.7],[6.2,-0.3],[6.3,1.2],[6.4,-0.5],[6.5,0.2],[6.6,-2.1],[6.7,0.9],[6.8,1.6],[6.9,-0.2],[7.0,0.6],[7.1,-0.8],[7.2,-1.7],[7.3,-2.3],[7.4,-0.9],[7.5,0.4],[7.6,-0.5],[7.7,0.8],[7.8,1.5],[7.9,-0.3],[8.0,0.4],[8.15,-0.7],[8.3,0.6],[8.45,-1.1],[8.6,0.2],[8.75,0.9],[8.9,-0.5],[9.05,1.3],[9.2,-0.2],[9.35,0.5],[9.5,-0.9],[9.65,0.3],[9.8,-0.4],[9.95,0.2]];
const res29=[[2.16,1.0],[2.26,0.05],[2.33,0.8],[2.4,0.3],[2.46,0.7],[2.52,-0.2],[2.58,0.6],[2.64,1.2],[2.7,-0.7],[2.77,0.3],[2.84,-1.0],[2.91,0.5],[2.98,-1.8],[3.05,0.2],[3.12,-0.9],[3.2,0.9],[3.27,-0.3],[3.35,-1.2],[3.43,0.4],[3.51,-0.6],[3.6,1.3],[3.68,-2.0],[3.76,0.2],[3.85,0.9],[3.93,-0.5],[4.02,2.6],[4.1,-0.4],[4.2,0.7],[4.3,-1.4],[4.4,0.3],[4.5,1.5],[4.6,-0.9],[4.7,-2.3],[4.8,0.8],[4.9,1.6],[5.0,-0.3],[5.1,0.4],[5.2,-1.6],[5.3,1.0],[5.4,0.2],[5.5,-0.8],[5.6,1.9],[5.7,0.5],[5.8,-1.2],[5.9,0.7],[6.0,1.4],[6.1,-0.6],[6.2,2.5],[6.3,0.3],[6.4,-1.0],[6.5,0.9],[6.6,-0.4],[6.7,1.7],[6.8,0.2],[6.9,-1.5],[7.0,0.6],[7.1,-0.2],[7.2,1.1],[7.3,-0.7],[7.4,0.5],[7.55,-1.1],[7.7,0.8],[7.85,0.0],[8.0,-0.6],[8.15,1.2],[8.3,-0.3],[8.45,0.4],[8.6,-0.9],[8.75,0.7],[8.9,0.1],[9.05,-0.5],[9.2,0.9],[9.35,-0.2],[9.5,0.4],[9.65,-0.8],[9.8,0.6],[9.95,-0.3]];
const res30=[[2.03,1.5],[2.08,0.9],[2.13,1.2],[2.18,0.5],[2.23,1.0],[2.28,0.6],[2.33,1.0],[2.38,0.3],[2.44,1.1],[2.5,0.4],[2.56,-0.8],[2.62,1.9],[2.68,0.2],[2.74,-1.0],[2.8,0.8],[2.87,-0.3],[2.94,1.6],[3.0,0.0],[3.07,-1.6],[3.14,0.5],[3.21,-0.6],[3.28,1.2],[3.35,-1.9],[3.42,-0.4],[3.5,0.6],[3.58,-1.2],[3.66,0.2],[3.74,-0.7],[3.82,0.9],[3.9,0.1],[3.98,-0.5],[4.06,0.7],[4.15,0.2],[4.24,-0.3],[4.33,0.5],[4.42,0.1],[4.51,0.8],[4.6,-0.4],[4.7,0.3],[4.8,1.2],[4.9,-0.2],[5.0,0.6],[5.1,1.5],[5.2,-0.6],[5.3,0.9],[5.4,0.2],[5.5,-1.1],[5.6,1.8],[5.7,0.4],[5.8,-0.5],[5.9,1.0],[6.0,-1.8],[6.1,0.7],[6.2,-0.9],[6.3,0.3],[6.4,2.2],[6.5,-0.4],[6.6,0.8],[6.7,-2.4],[6.8,0.2],[6.9,1.1],[7.0,-0.6],[7.1,3.6],[7.2,0.1],[7.3,-1.3],[7.45,0.6],[7.6,-0.3],[7.75,0.9],[7.9,-1.6],[8.05,-0.5],[8.2,0.3],[8.35,-2.0],[8.5,-1.0],[8.65,0.4],[8.8,-0.7],[8.95,0.5],[9.1,-1.4],[9.25,-2.7],[9.4,0.2],[9.55,-0.8],[9.7,0.9],[9.85,1.5],[9.98,0.6]];
const res31=[[1.27,2.5],[1.51,-1.1],[1.82,-0.3],[2.05,0.25],[2.28,0.2],[2.5,-0.1],[2.7,0.55],[2.83,-2.15],[2.95,0.1],[3.0,1.2],[3.08,-1.5],[3.16,1.4],[3.24,0.4],[3.32,-0.6],[3.4,1.1],[3.48,-2.0],[3.56,0.8],[3.64,-0.2],[3.72,1.6],[3.8,-1.4],[3.88,0.2],[3.96,-2.6],[4.04,0.7],[4.12,1.9],[4.2,-0.8],[4.3,0.5],[4.4,-1.1],[4.5,1.0],[4.6,-0.3],[4.7,0.6],[4.8,-1.7],[4.9,0.9],[5.0,-0.6],[5.1,0.3],[5.2,1.3],[5.3,-0.9],[5.4,0.2],[5.5,-2.3],[5.6,0.8],[5.7,-0.4],[5.8,1.1],[5.9,0.0],[6.0,-1.2],[6.1,0.5],[6.2,-0.7],[6.3,1.2],[6.4,-0.2],[6.5,0.6],[6.6,1.9],[6.7,1.3],[6.8,2.2],[6.9,0.9],[7.0,1.6],[7.1,0.4],[7.2,1.5],[7.3,0.6],[7.4,-0.3],[7.5,1.2],[7.6,0.2],[7.75,1.0],[7.9,0.5],[8.05,1.3],[8.2,-0.6],[8.35,0.7],[8.5,-1.4],[8.65,0.3],[8.8,-0.9],[8.95,-0.2],[9.1,-1.8],[9.25,0.5],[9.4,-0.7],[9.55,-1.3],[9.7,0.3],[9.85,-0.8],[9.97,0.4]];
const res32=[[1.1,0.05],[1.25,0.05],[1.42,1.9],[1.55,-1.4],[1.68,0.7],[1.77,0.5],[1.92,0.0],[2.05,-0.6],[2.25,-0.5],[2.45,-0.3],[2.55,0.25],[2.65,-0.9],[2.8,-0.65],[2.95,0.65],[3.05,0.0],[3.2,0.5],[3.3,-2.3],[3.4,0.2],[3.5,-0.4],[3.58,0.9],[3.66,-1.0],[3.74,0.3],[3.82,1.5],[3.9,-0.6],[3.98,0.1],[4.06,-1.3],[4.14,0.7],[4.22,-0.2],[4.3,0.5],[4.4,-1.8],[4.5,0.4],[4.6,1.1],[4.7,-0.5],[4.8,0.6],[4.9,-2.0],[5.0,0.2],[5.1,0.9],[5.2,-0.6],[5.3,0.4],[5.4,1.3],[5.5,-0.4],[5.6,0.7],[5.7,-1.2],[5.8,0.3],[5.9,1.4],[6.0,0.5],[6.1,-0.7],[6.2,1.0],[6.3,0.2],[6.4,0.8],[6.5,-0.3],[6.6,1.1],[6.7,0.4],[6.8,-0.6],[6.9,0.9],[7.0,1.5],[7.1,0.3],[7.2,-0.5],[7.3,1.2],[7.45,0.6],[7.6,-0.2],[7.75,1.0],[7.9,0.3],[8.05,1.4],[8.2,0.1],[8.35,0.8],[8.5,-0.6],[8.65,1.1],[8.8,0.2],[8.95,-0.3],[9.1,0.6],[9.25,-0.2],[9.4,0.3],[9.55,-1.3],[9.7,-1.8],[9.85,-1.0],[9.97,-1.6]];
const res42=[[1.2,1.75],[1.42,2.0],[1.6,0.95],[1.82,0.9],[1.97,1.65],[2.05,1.0],[2.13,1.2],[2.2,-1.3],[2.28,0.4],[2.35,-0.6],[2.42,1.3],[2.5,0.2],[2.57,-0.9],[2.64,0.6],[2.72,-2.3],[2.8,0.1],[2.88,-0.7],[2.96,1.1],[3.05,-0.2],[3.14,0.6],[3.23,-1.0],[3.32,0.3],[3.42,-0.8],[3.52,1.3],[3.62,-0.4],[3.72,-2.6],[3.82,0.4],[3.92,-0.3],[4.02,0.9],[4.12,-1.2],[4.22,0.5],[4.32,-0.6],[4.42,0.2],[4.52,1.0],[4.62,-0.9],[4.72,0.3],[4.82,-0.2],[4.92,-1.4],[5.02,0.6],[5.12,-0.3],[5.22,0.8],[5.32,-0.7],[5.42,0.1],[5.52,1.1],[5.62,-0.5],[5.72,0.4],[5.82,-1.6],[5.92,0.7],[6.02,-0.1],[6.12,1.4],[6.22,0.3],[6.32,-0.6],[6.42,2.2],[6.52,0.5],[6.62,-0.8],[6.72,0.9],[6.82,-0.2],[6.92,-2.7],[7.02,0.6],[7.12,-0.3],[7.22,1.0],[7.35,0.2],[7.5,-0.7],[7.65,0.5],[7.8,-0.4],[7.95,0.8],[8.1,-1.1],[8.25,0.3],[8.4,0.9],[8.55,-0.5],[8.7,0.4],[8.85,1.2],[9.0,-0.3],[9.15,0.6],[9.3,0.2],[9.45,-0.9],[9.6,0.7],[9.75,-0.2],[9.9,-1.6]];
const res43=[[1.95,0.15],[2.55,-0.1],[2.9,0.0],[3.08,1.15],[3.2,0.1],[3.35,-1.9],[3.5,0.5],[3.58,-0.4],[3.66,0.8],[3.74,-1.1],[3.82,0.3],[3.9,-0.7],[3.98,1.0],[4.06,-0.2],[4.14,0.6],[4.22,-1.3],[4.3,0.4],[4.4,-0.5],[4.5,0.9],[4.6,-0.9],[4.7,0.2],[4.8,-1.6],[4.9,0.4],[5.0,1.2],[5.1,0.7],[5.2,1.6],[5.3,0.3],[5.4,1.0],[5.5,-0.2],[5.6,0.8],[5.7,-0.6],[5.8,0.5],[5.9,1.3],[6.0,-0.1],[6.1,0.6],[6.2,-0.8],[6.3,0.2],[6.4,-1.2],[6.5,0.4],[6.6,-0.5],[6.7,0.1],[6.8,-1.1],[6.9,0.7],[7.0,-0.3],[7.1,1.5],[7.2,-0.6],[7.3,0.3],[7.45,-1.4],[7.6,0.9],[7.75,-0.2],[7.9,1.1],[8.05,-0.7],[8.2,0.5],[8.35,-1.8],[8.5,0.2],[8.65,1.3],[8.8,-0.4],[8.95,0.6],[9.1,-2.2],[9.25,0.8],[9.4,-0.3],[9.55,1.0],[9.7,-0.9],[9.85,0.4],[9.97,-0.5]];
const res44=[[1.2,0.8],[1.5,0.02],[1.75,2.25],[2.0,-0.9],[2.4,1.15],[2.7,0.55],[2.9,1.1],[3.08,-1.2],[3.18,-1.3],[3.28,-2.2],[3.38,0.4],[3.48,1.2],[3.58,-0.3],[3.68,0.8],[3.78,1.9],[3.88,0.2],[3.98,1.4],[4.08,-0.5],[4.18,0.9],[4.28,0.3],[4.38,1.6],[4.48,-0.8],[4.58,0.6],[4.68,1.0],[4.78,-0.4],[4.88,0.2],[4.98,1.2],[5.08,-1.0],[5.18,0.5],[5.28,-0.2],[5.38,-1.4],[5.48,0.3],[5.58,-0.7],[5.68,-1.9],[5.78,0.1],[5.88,-0.6],[5.98,0.8],[6.08,-1.2],[6.18,0.4],[6.28,-0.3],[6.38,1.1],[6.48,0.2],[6.58,-0.9],[6.68,0.6],[6.78,1.3],[6.88,-0.4],[6.98,0.9],[7.08,0.1],[7.18,-1.1],[7.3,0.7],[7.45,-0.2],[7.6,1.2],[7.75,0.3],[7.9,-0.6],[8.05,0.5],[8.2,-1.5],[8.35,0.8],[8.5,-0.3],[8.65,0.4],[8.8,-0.8],[8.95,1.0],[9.1,-0.2],[9.25,0.6],[9.4,-0.5],[9.55,0.3],[9.7,-1.0],[9.85,0.5],[9.97,-0.3]];
const res45=[[1.1,-0.5],[1.35,0.1],[1.55,0.05],[1.72,0.35],[1.88,2.1],[1.98,0.8],[2.1,0.25],[2.22,-0.25],[2.3,1.05],[2.4,-1.75],[2.55,0.8],[2.65,0.7],[2.75,-0.65],[2.85,-1.2],[2.95,0.3],[3.0,2.0],[3.08,1.3],[3.16,-0.2],[3.24,0.9],[3.32,-1.0],[3.4,0.4],[3.48,1.2],[3.56,-0.6],[3.64,0.2],[3.72,-1.3],[3.8,0.7],[3.88,-0.3],[3.96,1.0],[4.04,-0.8],[4.12,0.5],[4.2,-1.6],[4.3,0.3],[4.4,1.1],[4.5,-0.4],[4.6,0.8],[4.7,-1.1],[4.8,0.1],[4.9,1.4],[5.0,-0.7],[5.1,0.6],[5.2,-0.2],[5.3,1.7],[5.4,-0.5],[5.5,0.3],[5.6,-1.3],[5.7,0.9],[5.8,0.2],[5.9,-0.8],[6.0,1.2],[6.1,-0.3],[6.2,0.5],[6.3,1.6],[6.4,-0.6],[6.5,0.4],[6.6,-1.9],[6.7,0.7],[6.8,1.3],[6.9,-0.2],[7.0,0.6],[7.1,-1.0],[7.2,1.8],[7.3,0.1],[7.45,-0.7],[7.6,0.9],[7.75,-0.4],[7.9,1.5],[8.05,-1.2],[8.2,0.3],[8.35,0.8],[8.5,-0.5],[8.65,1.1],[8.8,-1.5],[8.95,0.2],[9.1,0.9],[9.25,-0.8],[9.4,0.6],[9.55,-2.2],[9.7,-1.4],[9.85,0.3],[9.97,-2.6]];
const res46=[[1.1,2.95],[1.37,0.8],[1.59,1.1],[1.8,0.3],[2.02,-0.4],[2.24,0.75],[2.32,1.9],[2.38,1.5],[2.44,0.1],[2.52,1.2],[2.6,0.8],[2.68,-0.6],[2.76,1.1],[2.84,1.4],[2.92,0.6],[3.0,-0.5],[3.08,0.9],[3.16,-1.0],[3.24,0.3],[3.32,-0.3],[3.4,-1.3],[3.48,0.2],[3.56,-0.8],[3.64,-1.6],[3.72,-0.4],[3.8,-1.1],[3.88,0.2],[3.96,-0.7],[4.04,0.5],[4.12,-1.4],[4.2,-0.2],[4.3,0.6],[4.4,-0.9],[4.5,0.1],[4.6,0.9],[4.7,-0.3],[4.8,0.4],[4.9,1.6],[5.0,0.3],[5.1,2.1],[5.2,-0.4],[5.3,0.7],[5.4,-0.9],[5.5,0.2],[5.6,1.0],[5.7,-0.5],[5.8,0.5],[5.9,-1.2],[6.0,0.3],[6.1,1.4],[6.2,-0.1],[6.3,0.6],[6.4,-0.6],[6.5,1.1],[6.6,0.2],[6.7,-0.9],[6.8,0.8],[6.9,-0.3],[7.0,0.4],[7.15,-1.1],[7.3,0.5],[7.45,1.2],[7.6,-0.4],[7.75,0.3],[7.9,-0.8],[8.05,0.9],[8.2,0.1],[8.35,-0.5],[8.5,0.6],[8.65,-0.2],[8.8,1.0],[8.95,0.3],[9.1,-0.7],[9.25,0.5],[9.4,-0.3],[9.55,0.8],[9.7,-1.2],[9.85,-2.0],[9.97,0.2]];
const res47=[[2.8,-0.05],[3.2,-0.65],[3.45,0.1],[3.7,0.05],[3.85,1.3],[3.95,0.3],[4.05,1.0],[4.15,-0.8],[4.25,1.6],[4.35,-0.6],[4.45,0.5],[4.55,1.2],[4.65,-1.4],[4.75,0.8],[4.85,-0.3],[4.95,-1.0],[5.05,0.4],[5.15,-0.9],[5.25,1.1],[5.35,0.6],[5.45,1.5],[5.55,0.2],[5.65,0.9],[5.75,-0.5],[5.85,1.3],[5.95,0.4],[6.05,-0.8],[6.15,0.3],[6.25,0.8],[6.35,-1.2],[6.45,-0.4],[6.55,-1.7],[6.65,-0.6],[6.75,0.2],[6.85,0.9],[6.95,-1.1],[7.05,0.5],[7.15,-0.2],[7.3,1.4],[7.45,0.3],[7.6,0.8],[7.75,1.1],[7.9,0.4],[8.05,-0.6],[8.2,1.3],[8.35,0.5],[8.5,0.5],[8.65,-0.3],[8.8,0.7],[8.95,-1.2],[9.1,0.1],[9.3,-0.6],[9.5,0.4],[9.7,-0.3],[9.9,-1.0]];
const res48=[[1.12,-0.3],[1.25,1.3],[1.4,0.1],[1.5,1.8],[1.58,0.4],[1.65,2.9],[1.72,-1.45],[1.8,1.8],[1.88,1.0],[1.95,-0.2],[2.05,1.7],[2.12,-0.1],[2.2,1.5],[2.28,0.6],[2.36,-2.0],[2.44,1.4],[2.52,-2.3],[2.6,0.3],[2.68,-0.5],[2.76,1.2],[2.84,-0.7],[2.92,0.4],[3.0,1.0],[3.1,-0.3],[3.2,0.6],[3.3,-1.0],[3.4,0.2],[3.5,-0.6],[3.6,0.9],[3.7,-0.4],[3.8,0.3],[3.9,-1.2],[4.0,0.5],[4.1,-0.2],[4.2,1.1],[4.3,-0.8],[4.4,0.1],[4.5,0.7],[4.6,-0.5],[4.7,0.4],[4.8,-1.1],[4.9,0.2],[5.0,0.8],[5.1,-0.6],[5.2,1.2],[5.3,-0.1],[5.4,0.5],[5.5,-0.9],[5.6,0.3],[5.7,1.0],[5.8,-0.4],[5.9,0.6],[6.0,-1.3],[6.1,0.2],[6.2,0.9],[6.3,-0.5],[6.4,1.4],[6.5,-0.2],[6.6,0.7],[6.7,-1.6],[6.8,0.3],[6.9,1.1],[7.0,-0.7],[7.15,0.5],[7.3,-1.4],[7.45,0.9],[7.6,0.2],[7.75,1.6],[7.9,0.4],[8.05,-0.6],[8.2,1.3],[8.35,0.2],[8.5,2.2],[8.65,1.0],[8.8,-0.5],[8.95,0.7],[9.1,-1.2],[9.25,0.5],[9.4,1.7],[9.55,-0.3],[9.7,0.4],[9.85,-0.8],[9.97,1.2]];
const res49=[[1.02,-0.15],[1.1,-1.2],[1.15,0.6],[1.2,-0.1],[1.28,0.8],[1.35,2.1],[1.42,0.7],[1.5,1.8],[1.58,-1.0],[1.65,0.05],[1.72,0.0],[1.8,1.6],[1.9,-0.5],[1.95,1.9],[2.05,-1.0],[2.12,0.4],[2.2,-1.5],[2.28,-0.6],[2.36,0.9],[2.44,-2.2],[2.52,1.7],[2.6,-0.3],[2.68,0.5],[2.76,-1.2],[2.84,0.2],[2.92,2.6],[3.0,-0.8],[3.08,0.3],[3.16,-0.4],[3.24,0.9],[3.32,-1.6],[3.4,0.1],[3.48,1.1],[3.56,-0.5],[3.64,0.7],[3.72,-1.3],[3.8,0.2],[3.88,2.2],[3.96,-0.3],[4.04,0.5],[4.12,-1.0],[4.2,0.4],[4.3,-0.7],[4.4,1.2],[4.5,-1.4],[4.6,0.3],[4.7,-0.2],[4.8,0.6],[4.9,-1.7],[5.0,0.2],[5.1,-0.5],[5.2,1.0],[5.3,-0.8],[5.4,0.1],[5.5,-1.2],[5.6,0.4],[5.7,-0.3],[5.8,0.9],[5.9,-0.6],[6.0,0.2],[6.1,-1.5],[6.2,0.5],[6.3,1.4],[6.4,2.3],[6.5,1.1],[6.6,1.8],[6.7,0.6],[6.8,1.3],[6.9,0.2],[7.0,1.6],[7.1,-0.4],[7.25,0.8],[7.4,-1.0],[7.55,0.3],[7.7,-0.6],[7.85,1.2],[8.0,-0.2],[8.15,0.7],[8.3,-1.1],[8.45,0.4],[8.6,-1.8],[8.75,0.9],[8.9,-0.5],[9.05,1.5],[9.2,-0.8],[9.35,0.3],[9.5,-1.3],[9.65,1.0],[9.8,-0.4],[9.97,0.5]];
const res50=[[1.07,2.3],[1.12,2.4],[1.18,0.7],[1.22,0.2],[1.27,1.7],[1.3,-0.6],[1.35,-0.9],[1.4,-1.2],[1.45,-2.1],[1.5,-0.3],[1.55,0.3],[1.6,-1.0],[1.65,0.9],[1.7,-0.1],[1.75,0.4],[1.8,-0.7],[1.86,1.5],[1.92,0.2],[1.98,1.4],[2.04,-0.4],[2.1,0.9],[2.16,1.3],[2.22,-0.6],[2.28,0.3],[2.34,-1.1],[2.4,0.7],[2.46,-0.3],[2.52,0.5],[2.6,-1.2],[2.68,0.1],[2.76,1.0],[2.84,-0.5],[2.92,0.2],[3.0,-0.9],[3.1,0.6],[3.2,-0.2],[3.3,0.4],[3.4,-1.4],[3.5,0.3],[3.6,-0.7],[3.7,-1.8],[3.8,-0.3],[3.9,0.8],[4.0,-2.2],[4.1,0.5],[4.2,-0.4],[4.3,1.0],[4.4,-0.6],[4.5,0.2],[4.6,-1.1],[4.7,0.7],[4.8,-0.2],[4.9,1.2],[5.0,0.3],[5.1,-0.8],[5.2,0.5],[5.3,1.4],[5.4,-0.3],[5.5,0.8],[5.6,-0.1],[5.7,1.6],[5.8,0.4],[5.9,-0.6],[6.0,0.9],[6.1,1.8],[6.2,0.2],[6.3,-0.5],[6.4,1.1],[6.5,-0.3],[6.6,0.6],[6.7,-1.0],[6.8,0.4],[6.95,1.2],[7.1,-0.4],[7.25,0.7],[7.4,-0.9],[7.55,0.3],[7.7,1.0],[7.85,-0.5],[8.0,0.2],[8.15,-1.2],[8.3,0.5],[8.45,-0.3],[8.6,0.8],[8.75,-0.8],[8.9,0.1],[9.05,-1.5],[9.2,0.4],[9.35,-0.2],[9.5,0.6],[9.65,-0.7],[9.8,0.3],[9.97,-0.4]];
const res51=[[1.02,0.7],[1.08,2.6],[1.15,0.8],[1.2,0.6],[1.25,-0.85],[1.3,-1.8],[1.35,-0.2],[1.4,-0.3],[1.45,1.4],[1.5,0.9],[1.55,-0.25],[1.6,-1.1],[1.65,0.5],[1.7,-1.1],[1.75,-0.3],[1.8,0.5],[1.85,-1.4],[1.9,-0.2],[1.96,0.6],[2.02,1.0],[2.08,-0.8],[2.14,2.0],[2.2,1.3],[2.26,-0.6],[2.32,0.4],[2.38,-1.6],[2.44,0.8],[2.5,-0.3],[2.56,1.1],[2.62,-1.9],[2.7,0.2],[2.78,-0.8],[2.86,0.6],[2.94,-0.4],[3.02,1.2],[3.1,-1.2],[3.18,0.3],[3.26,-0.6],[3.34,0.9],[3.42,1.4],[3.5,-0.2],[3.58,0.7],[3.66,-1.5],[3.74,0.4],[3.82,2.0],[3.9,1.2],[3.98,-0.4],[4.06,1.5],[4.14,0.5],[4.22,-0.9],[4.3,1.0],[4.4,0.2],[4.5,1.7],[4.6,-0.6],[4.7,0.4],[4.8,-1.3],[4.9,0.6],[5.0,-0.2],[5.1,0.9],[5.2,-0.7],[5.3,0.3],[5.4,1.2],[5.5,-0.5],[5.6,0.7],[5.7,-1.0],[5.8,0.1],[5.9,1.3],[6.0,-0.4],[6.1,0.5],[6.2,-1.7],[6.3,0.6],[6.4,1.1],[6.5,-0.3],[6.6,0.8],[6.7,-1.2],[6.8,0.3],[6.9,0.9],[7.0,-0.5],[7.15,0.4],[7.3,1.2],[7.45,-0.8],[7.6,0.2],[7.75,-0.4],[7.9,0.9],[8.05,-1.1],[8.2,0.5],[8.35,-0.3],[8.5,0.7],[8.65,-1.4],[8.8,0.2],[8.95,0.8],[9.1,-0.6],[9.25,0.4],[9.4,-0.9],[9.55,0.1],[9.7,1.3],[9.85,-0.2],[9.97,1.6]];
const res52=[[1.02,1.6],[1.06,2.4],[1.1,0.9],[1.14,0.4],[1.18,2.3],[1.22,-0.7],[1.26,-1.9],[1.3,-2.8],[1.34,-0.4],[1.38,0.2],[1.42,-1.5],[1.46,-0.9],[1.5,0.9],[1.55,-1.2],[1.6,0.1],[1.65,-0.5],[1.7,0.6],[1.75,-0.2],[1.8,-1.0],[1.85,0.8],[1.9,-0.3],[1.95,0.4],[2.0,2.0],[2.05,1.0],[2.1,-0.6],[2.15,0.3],[2.2,-1.1],[2.25,0.9],[2.3,-0.2],[2.36,1.9],[2.42,0.7],[2.48,-0.4],[2.54,1.2],[2.6,0.5],[2.66,1.6],[2.72,0.2],[2.78,-0.5],[2.84,0.8],[2.9,1.5],[2.96,0.3],[3.02,-0.9],[3.1,-1.5],[3.18,-0.6],[3.26,-1.9],[3.34,0.4],[3.42,-0.8],[3.5,0.6],[3.58,-0.2],[3.66,1.0],[3.74,-0.4],[3.82,0.3],[3.9,1.1],[3.98,-0.6],[4.06,0.5],[4.14,-1.0],[4.22,0.2],[4.3,0.8],[4.4,-0.3],[4.5,0.5],[4.6,-1.2],[4.7,0.4],[4.8,1.0],[4.9,-0.5],[5.0,0.2],[5.1,-0.8],[5.2,0.6],[5.3,-0.1],[5.4,0.9],[5.5,-0.6],[5.6,0.3],[5.7,1.2],[5.8,-0.4],[5.9,0.7],[6.0,-1.1],[6.1,0.2],[6.2,0.9],[6.3,-0.5],[6.4,0.4],[6.5,-0.9],[6.6,1.3],[6.7,0.1],[6.8,-0.6],[6.9,0.8],[7.0,-1.4],[7.15,0.3],[7.3,-0.7],[7.45,0.6],[7.6,-1.8],[7.75,0.2],[7.9,1.1],[8.05,-0.4],[8.2,0.5],[8.35,-1.0],[8.5,0.8],[8.65,-0.3],[8.8,1.4],[8.95,0.2],[9.1,-0.6],[9.25,0.9],[9.4,-0.2],[9.55,0.4],[9.7,1.1],[9.85,-0.5],[9.97,0.8]];
const res55=[[1.15,1.4],[1.3,0.2],[1.42,0.1],[1.52,1.2],[1.58,1.1],[1.65,1.35],[1.72,0.8],[1.8,0.2],[1.88,1.6],[1.95,0.0],[2.05,2.1],[2.12,-0.2],[2.2,0.7],[2.27,-1.1],[2.34,0.6],[2.4,0.9],[2.47,-0.3],[2.54,0.2],[2.62,-1.0],[2.7,-0.5],[2.78,-1.3],[2.86,-0.3],[2.94,-1.7],[3.02,-0.6],[3.1,-1.0],[3.18,-0.2],[3.26,-1.5],[3.34,0.1],[3.42,-2.7],[3.5,-0.4],[3.58,1.3],[3.66,-0.8],[3.74,0.3],[3.82,-0.5],[3.9,0.6],[3.98,-0.2],[4.06,0.4],[4.14,1.4],[4.22,0.5],[4.3,1.8],[4.38,0.3],[4.46,1.1],[4.54,-0.4],[4.62,0.8],[4.7,1.6],[4.8,-0.1],[4.9,0.9],[5.0,0.3],[5.1,1.2],[5.2,-0.6],[5.3,0.5],[5.4,-0.3],[5.5,1.0],[5.6,0.1],[5.7,-0.9],[5.8,0.4],[5.9,-0.4],[6.0,0.7],[6.1,-1.2],[6.2,0.2],[6.3,-0.5],[6.4,1.3],[6.5,-0.2],[6.6,0.6],[6.7,-0.8],[6.8,0.3],[6.9,-1.5],[7.0,0.4],[7.15,1.0],[7.3,-0.3],[7.45,0.5],[7.6,-2.3],[7.75,0.2],[7.9,-0.6],[8.05,0.9],[8.2,-0.4],[8.35,0.3],[8.5,-0.9],[8.65,0.6],[8.8,-0.2],[8.95,0.4],[9.1,-0.7],[9.25,0.8],[9.4,-0.3],[9.55,0.1],[9.7,-3.2],[9.85,0.6],[9.97,-1.1]];

// ---------------- LAYOUT (positions / styles) ----------------
const COLX=[28,342,655,969], ROWY=[1,288,575,862,1149], PW=229, SH=164.5, RH=99.5;
const layout=[
 {c:0,r:0,yDom:[0.0083,1.94],rDom:[-3,3.03],title:[173,93,177,105],stepEnd:3.0},
 {c:1,r:0,yDom:[0.0148,2.31],rDom:[-2.91,2.94],title:[173,84,177,94],stepEnd:3.0},
 {c:2,r:0,yDom:[0.0134,1.39],rDom:[-3.43,4.73],title:[173,96,175,108],stepEnd:2.5},
 {c:3,r:0,yDom:[0.000576,0.685],rDom:[-2.65,2.68],title:[156,101,168,110],stepEnd:3.0},
 {c:0,r:1,yDom:[0.000136,0.207],rDom:[-2.36,2.82],title:[163,107,177,118],stepEnd:3.5},
 {c:1,r:1,yDom:[0.00449,1.32],rDom:[-2.91,2.66],title:[155.5,80,159,94],stepEnd:2.5},
 {c:2,r:1,yDom:[0.00097,0.677],rDom:[-2.58,2.88],title:[157,108,160,121],stepEnd:3.6},
 {c:3,r:1,yDom:[0.00038,1.47],rDom:[-2.4,2.5],title:[66.5,55,69,70],stepEnd:3.4},
 {c:0,r:2,yDom:[0.00043,0.825],rDom:[-3.02,2.25],title:[145,106.5,159,118.5],stepEnd:2.92},
 {c:1,r:2,yDom:[0.0008,0.48],rDom:[-2.47,3.03],title:[155.5,101,166,115],stepEnd:3.0},
 {c:2,r:2,yDom:[0.069,1.14],rDom:[-2.09,2.5],title:[65.6,91,68,105],stepEnd:3.9},
 {c:3,r:2,yDom:[0.00205,0.408],rDom:[-2.53,3.03],title:[134,67,146,79],stepEnd:2.0},
 {c:0,r:3,yDom:[0.000226,0.1615],rDom:[-2.7,3.6],title:[132.7,84,138.5,94],stepEnd:1.98},
 {c:1,r:3,yDom:[0.0203,0.585],rDom:[-2.61,2.66],title:[104.6,89,108.4,100],stepEnd:1.82},
 {c:2,r:3,yDom:[0.00414,0.813],rDom:[-2.1,2.68],title:[134,74,136,84],stepEnd:1.5},
 {c:3,r:3,yDom:[0.0855,1.18],rDom:[-2.95,2.7],title:[105.6,87.5,109.4,99],stepEnd:1.5},
 {c:0,r:4,yDom:[0.00112,0.0753],rDom:[-3.39,2.53],title:[132.7,82.5,136.3,96],stepEnd:2.07}
];
const models=[model28,model29,model30,model31,model32,model42,model43,model44,model45,model46,model47,model48,model49,model50,model51,model52,model55];
const specs=[spec28,spec29,spec30,spec31,spec32,spec42,spec43,spec44,spec45,spec46,spec47,spec48,spec49,spec50,spec51,spec52,spec55];
const resids=[res28,res29,res30,res31,res32,res42,res43,res44,res45,res46,res47,res48,res49,res50,res51,res52,res55];
const yTickSets=[yt28,yt29,yt30,yt31,yt32,yt42,yt43,yt44,yt45,yt46,yt47,yt48,yt49,yt50,yt51,yt52,yt55];
const resTickSets=[resTicksA,resTicksA,resTicksB,resTicksA,resTicksA,resTicksA,resTicksA,resTicksC,resTicksA,resTicksA,resTicksC,resTicksA,resTicksA,resTicksA,resTicksC,resTicksA,resTicksA];

// ---------------- DRAW ----------------
const FONT="'Liberation Serif','Times New Roman',Times,serif";
const svg=d3.select("#c");
const defs=svg.append("defs");

function labelFor(v){
  if(v===0.001) return "10^-3";
  if(v===0.002) return "2×10^-3";
  if(v===0.005) return "5×10^-3";
  return String(v);
}
function writeLabel(textSel){
  textSel.each(function(){
    const t=d3.select(this); const s=t.text(); const p=s.split("^");
    t.text(p[0]);
    if(p.length>1){ t.append("tspan").attr("dy",-1.8).attr("font-size",3.6).text(p[1].replace("-","−")); }
  });
}
function styleAxis(g){
  g.select(".domain").remove();
  g.attr("font-family",FONT).attr("font-size",5.2).attr("fill","#000");
  g.selectAll(".tick line").attr("stroke","#000").attr("stroke-width",0.6);
  g.selectAll(".tick text").attr("fill","#111");
  return g;
}

layout.forEach((L,i)=>{
  const left=COLX[L.c], top=ROWY[L.r];
  const bnd=top+SH, bot=top+SH+RH;
  const x=d3.scaleLog().domain([1,10]).range([left,left+PW]);
  const ys=d3.scaleLog().domain(L.yDom).range([bnd,top]);
  const yr=d3.scaleLinear().domain(L.rDom).range([bot,bnd]);
  const g=svg.append("g");
  const cs="cs"+i, cr="cr"+i;
  defs.append("clipPath").attr("id",cs).append("rect").attr("x",left).attr("y",top).attr("width",PW).attr("height",SH);
  defs.append("clipPath").attr("id",cr).append("rect").attr("x",left).attr("y",bnd).attr("width",PW).attr("height",RH);

  // ---- spectrum: model
  const gs=g.append("g").attr("clip-path",`url(#${cs})`);
  const model=models[i];
  const stepPart=model.filter(d=>d[0]<=L.stepEnd);
  const lastStep=stepPart.length?stepPart[stepPart.length-1][0]:model[0][0];
  const linPart=model.filter(d=>d[0]>=lastStep);
  if(stepPart.length>1) gs.append("path").attr("d",d3.line().x(d=>x(d[0])).y(d=>ys(d[1])).curve(d3.curveStepAfter)(stepPart)).attr("fill","none").attr("stroke","#000").attr("stroke-width",1);
  gs.append("path").attr("d",d3.line().x(d=>x(d[0])).y(d=>ys(d[1])).curve(d3.curveLinear)(linPart)).attr("fill","none").attr("stroke","#000").attr("stroke-width",1.6);

  // ---- spectrum: data crosses
  const sp=specs[i];
  const hwMap=new Map();
  const edges=(arr,j,cap)=>{
    const E=arr[j][0], px=x(E);
    if(arr[j][3]!==undefined) return [x(E-arr[j][3]),x(E+arr[j][3])];
    let d=Infinity;
    if(j>0) d=Math.min(d,px-x(arr[j-1][0]));
    if(j<arr.length-1) d=Math.min(d,x(arr[j+1][0])-px);
    const h=Math.max(0.6,Math.min(cap,d/2));
    return [px-h,px+h];
  };
  sp.forEach(d=>{ if(d[3]!==undefined) hwMap.set(d[0],d[3]); });
  const cross=gs.append("g").attr("stroke","#000").attr("stroke-width",0.8);
  sp.forEach((d,j)=>{
    const [xl,xr]=edges(sp,j,4);
    const px=x(d[0]);
    const lo=d[1]*(1-d[2]), hi=d[1]*(1+d[2]);
    const yLo=lo>0?ys(lo):bnd+2;
    cross.append("line").attr("x1",px).attr("x2",px).attr("y1",yLo).attr("y2",ys(hi));
    cross.append("line").attr("x1",xl).attr("x2",xr).attr("y1",ys(d[1])).attr("y2",ys(d[1]));
  });

  // ---- residuals
  const gr=g.append("g").attr("clip-path",`url(#${cr})`);
  const rs=resids[i];
  const rsW=rs.map(d=>hwMap.has(d[0])?[d[0],d[1],0,hwMap.get(d[0])]:d);
  let minX=Infinity;
  const rb=gr.append("g");
  rsW.forEach((d,j)=>{
    const [xl,xr]=edges(rsW,j,10);
    minX=Math.min(minX,xl);
    const px=x(d[0]);
    rb.append("line").attr("x1",px).attr("x2",px).attr("y1",yr(d[1]-1)).attr("y2",yr(d[1]+1)).attr("stroke","#444").attr("stroke-width",1);
    rb.append("line").attr("x1",xl).attr("x2",xr).attr("y1",yr(d[1])).attr("y2",yr(d[1])).attr("stroke","#000").attr("stroke-width",0.7);
  });
  gr.append("line").attr("x1",minX).attr("x2",x(10)).attr("y1",yr(0)).attr("y2",yr(0)).attr("stroke","#000").attr("stroke-width",1);

  // ---- frames
  g.append("rect").attr("x",left).attr("y",top).attr("width",PW).attr("height",SH).attr("fill","none").attr("stroke","#000").attr("stroke-width",0.8);
  g.append("rect").attr("x",left).attr("y",bnd).attr("width",PW).attr("height",RH).attr("fill","none").attr("stroke","#000").attr("stroke-width",0.8);

  // ---- y ticks spectrum
  const labeled=yTickSets[i];
  const [lo,hi]=L.yDom;
  const minors=[];
  for(let n=Math.floor(Math.log10(lo));n<=Math.ceil(Math.log10(hi));n++){
    for(let k=1;k<=9;k++){ const v=+(k*Math.pow(10,n)).toPrecision(6); if(v>=lo&&v<=hi&&!labeled.some(t=>Math.abs(t-v)/v<1e-6)) minors.push(v); }
  }
  styleAxis(g.append("g").attr("transform",`translate(${left},0)`).call(d3.axisLeft(ys).tickValues(labeled).tickSize(-4.5).tickFormat("")));
  styleAxis(g.append("g").attr("transform",`translate(${left},0)`).call(d3.axisLeft(ys).tickValues(minors).tickSize(-2.5).tickFormat("")));
  styleAxis(g.append("g").attr("transform",`translate(${left+PW},0)`).call(d3.axisRight(ys).tickValues(labeled).tickSize(-4.5).tickFormat("")));
  styleAxis(g.append("g").attr("transform",`translate(${left+PW},0)`).call(d3.axisRight(ys).tickValues(minors).tickSize(-2.5).tickFormat("")));
  const yl=styleAxis(g.append("g").attr("transform",`translate(${left},0)`).call(d3.axisLeft(ys).tickValues(labeled).tickSize(0).tickPadding(4).tickFormat(labelFor)));
  yl.selectAll(".tick line").remove();
  writeLabel(yl.selectAll(".tick text"));

  // ---- y ticks residual
  const rT=resTickSets[i];
  const rMin=[];
  const step=rT.includes(1)?0.5:1;
  for(let v=Math.ceil(L.rDom[0]/step)*step; v<=L.rDom[1]; v+=step){ const vv=+v.toFixed(2); if(!rT.includes(vv)) rMin.push(vv); }
  styleAxis(g.append("g").attr("transform",`translate(${left},0)`).call(d3.axisLeft(yr).tickValues(rT).tickSize(-4.5).tickFormat("")));
  styleAxis(g.append("g").attr("transform",`translate(${left},0)`).call(d3.axisLeft(yr).tickValues(rMin).tickSize(-2.5).tickFormat("")));
  styleAxis(g.append("g").attr("transform",`translate(${left+PW},0)`).call(d3.axisRight(yr).tickValues(rT).tickSize(-4.5).tickFormat("")));
  styleAxis(g.append("g").attr("transform",`translate(${left+PW},0)`).call(d3.axisRight(yr).tickValues(rMin).tickSize(-2.5).tickFormat("")));
  const rl=styleAxis(g.append("g").attr("transform",`translate(${left},0)`).call(d3.axisLeft(yr).tickValues(rT).tickSize(0).tickPadding(5).tickFormat(d=>String(d))));
  rl.selectAll(".tick line").remove();

  // ---- x ticks
  styleAxis(g.append("g").attr("transform",`translate(0,${top})`).call(d3.axisTop(x).tickValues(energyTicks).tickSize(-3.5).tickFormat("")));
  styleAxis(g.append("g").attr("transform",`translate(0,${bnd})`).call(d3.axisBottom(x).tickValues(energyTicks).tickSize(-3.5).tickFormat("")));
  styleAxis(g.append("g").attr("transform",`translate(0,${bnd})`).call(d3.axisTop(x).tickValues(energyTicks).tickSize(-3.5).tickFormat("")));
  styleAxis(g.append("g").attr("transform",`translate(0,${bot})`).call(d3.axisBottom(x).tickValues(energyTicks).tickSize(-3.5).tickFormat("")));
  const xl=styleAxis(g.append("g").attr("transform",`translate(0,${bot})`).call(d3.axisBottom(x).tickValues(energyLabelTicks).tickSize(0).tickPadding(3).tickFormat(d=>String(d))));
  xl.selectAll(".tick line").remove();

  // ---- axis titles
  g.append("text").attr("x",left+PW/2).attr("y",bot+17).attr("text-anchor","middle").attr("font-family",FONT).attr("font-size",5.2).attr("fill","#111").text("Energy (keV)");
  const ylab=g.append("text").attr("transform",`translate(${left-23},${top+SH/2+6}) rotate(-90)`).attr("text-anchor","middle").attr("font-family",FONT).attr("font-size",5.2).attr("letter-spacing",1.05).attr("fill","#111");
  ylab.append("tspan").text("normalized counts s");
  ylab.append("tspan").attr("dy",-1.8).attr("font-size",3.6).text("−1");
  ylab.append("tspan").attr("dy",1.8).text(" keV");
  ylab.append("tspan").attr("dy",-1.8).attr("font-size",3.6).text("−1");
  g.append("text").attr("transform",`translate(${left-23},${bnd+RH/2+8}) rotate(-90)`).attr("text-anchor","middle").attr("font-family",FONT).attr("font-size",5.2).attr("letter-spacing",1.15).attr("fill","#111").text("(data−model)/error");

  // ---- source annotation
  const tt=L.title;
  g.append("text").attr("x",left+tt[0]).attr("y",top+tt[1]).attr("text-anchor","middle").attr("font-family",FONT).attr("font-size",6).attr("fill","#111").text(sourceNames[i]);
  g.append("text").attr("x",left+tt[2]).attr("y",top+tt[3]).attr("text-anchor","middle").attr("font-family",FONT).attr("font-size",6).attr("fill","#111").text("("+panelIds[i]+")");
});
</script>
</body></html>
